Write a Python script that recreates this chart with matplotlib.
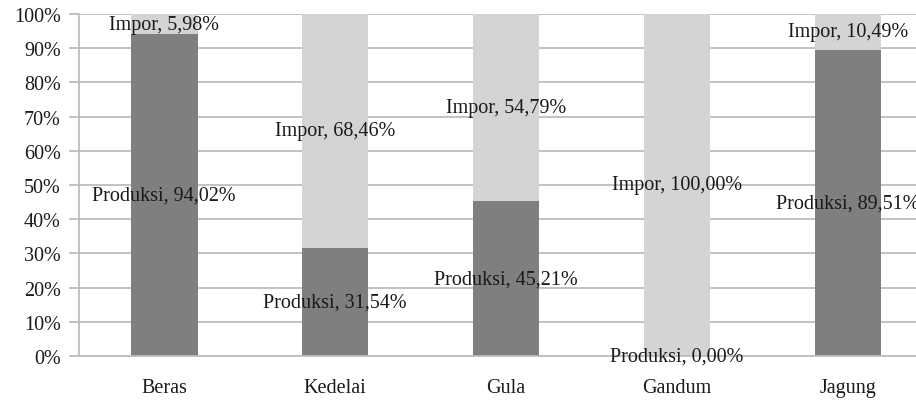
import numpy as np
import matplotlib
matplotlib.use('Agg')
import matplotlib.pyplot as plt

# Share of domestic production vs. imports per commodity
categories = ['Beras', 'Kedelai', 'Gula', 'Gandum', 'Jagung']
produksi = [94.02, 31.54, 45.21, 0.00, 89.51]
impor = [5.98, 68.46, 54.79, 100.00, 10.49]

plt.rcParams['font.family'] = ['Liberation Serif', 'DejaVu Serif']

dark = '#7f7f7f'
light = '#d4d4d6'
grid = '#bdbdbd'

fig = plt.figure(figsize=(9.16, 4.02), dpi=100)
# axes runs a little past the right edge of the figure
ax = fig.add_axes([0.086, 0.112, 0.933, 0.851])

x = np.arange(len(categories))
w = 0.39
ax.bar(x, produksi, w, color=dark, zorder=2)
ax.bar(x, impor, w, bottom=produksi, color=light, zorder=2)

fs = 14.5
for xi, p, im in zip(x, produksi, impor):
    ax.text(xi, p / 2, 'Produksi, %s%%' % ('%.2f' % p).replace('.', ','),
            ha='center', va='center', fontsize=fs, color='#1a1a1a', zorder=3, clip_on=False)
    ax.text(xi, p + im / 2, 'Impor, %s%%' % ('%.2f' % im).replace('.', ','),
            ha='center', va='center', fontsize=fs, color='#1a1a1a', zorder=3, clip_on=False)

ax.set_xlim(-0.5, 4.5)
ax.set_ylim(0, 100)
ax.set_yticks(np.arange(0, 101, 10))
ax.set_yticklabels(['%d%%' % v for v in range(0, 101, 10)])
ax.set_xticks(x)
ax.set_xticklabels(categories)

ax.yaxis.grid(True, color=grid, linewidth=1.3, zorder=0)
ax.set_axisbelow(True)
ax.tick_params(axis='y', length=7, width=1.3, color=grid, labelsize=fs, pad=6, labelcolor='#1a1a1a')
ax.tick_params(axis='x', length=0, labelsize=fs, pad=16, labelcolor='#1a1a1a')

for s in ['top', 'right']:
    ax.spines[s].set_visible(False)
for s in ['left', 'bottom']:
    ax.spines[s].set_color(grid)
    ax.spines[s].set_linewidth(1.3)

fig.savefig('out.png', dpi=100)
